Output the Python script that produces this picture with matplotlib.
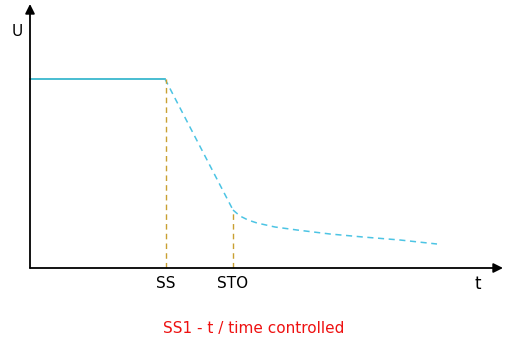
import matplotlib.pyplot as plt

# time axis (t) and signal (U) values
t_hold = [0, 135]
u_hold = [189, 189]

t_ramp = [135, 203]
u_ramp = [189, 58]

t_tail = [203, 210, 218, 227, 245, 267, 300, 333, 370, 407]
u_tail = [58, 52, 48, 45, 41, 38, 34, 31, 28, 24]

t_ss = 136
t_sto = 203
u_sto = 58

tick_labels = ["SS", "STO"]
tick_pos = [t_ss, t_sto]
title = "SS1 - t / time controlled"

fig = plt.figure(figsize=(5.19, 3.5), dpi=100)
ax = fig.add_axes([0, 0, 1, 1])
ax.set_xlim(-30, 489)
ax.set_ylim(-82, 268)
ax.axis("off")

# axes with arrow heads
ax.annotate("", xy=(0, 264), xytext=(0, 0),
            arrowprops=dict(arrowstyle="-|>", color="black", lw=1.3,
                            mutation_scale=14, shrinkA=0, shrinkB=0))
ax.annotate("", xy=(473, 0), xytext=(0, 0),
            arrowprops=dict(arrowstyle="-|>", color="black", lw=1.3,
                            mutation_scale=14, shrinkA=0, shrinkB=0))

ax.plot(t_hold, u_hold, color="#29b2c9", lw=1.2)
ax.plot(t_ramp, u_ramp, color="#4cc4e4", lw=1.1, ls=(0, (4, 3)))
ax.plot(t_tail, u_tail, color="#4cc4e4", lw=1.1, ls=(0, (4, 3)))

ax.plot([t_ss, t_ss], [0, u_hold[0]], color="#c9a032", lw=1.0, ls=(0, (4, 3)))
ax.plot([t_sto, t_sto], [0, u_sto], color="#c9a032", lw=1.0, ls=(0, (4, 3)))

for lab, x in zip(tick_labels, tick_pos):
    ax.text(x, -16, lab, ha="center", va="center", fontsize=11)

ax.text(-13, 236, "U", ha="center", va="center", fontsize=11)
ax.text(448, -16, "t", ha="center", va="center", fontsize=12)
ax.text(224, -60, title, ha="center", va="center", fontsize=11, color="#ee1111")

fig.savefig("out.png", dpi=100)
